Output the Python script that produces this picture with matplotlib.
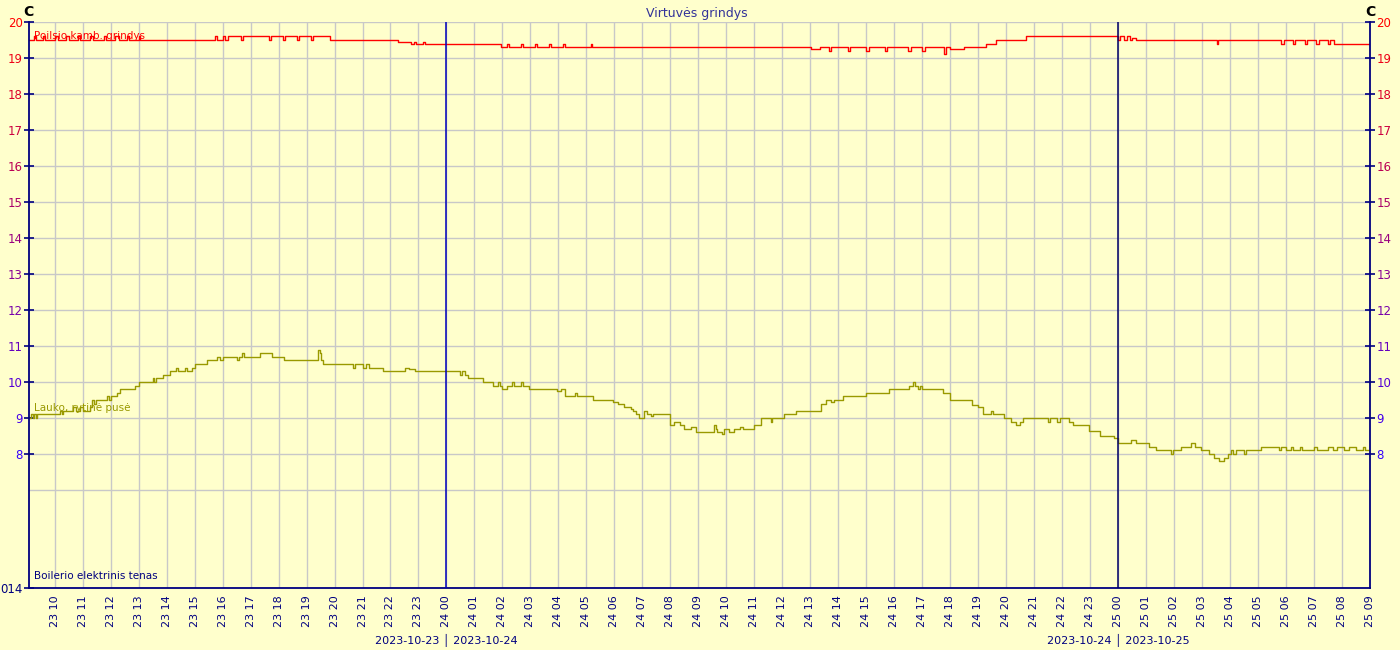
"""Virtuvės grindys temperature chart."""

import matplotlib

matplotlib.use("Agg")
import matplotlib.dates as mdates
import matplotlib.pyplot as plt
import numpy as np
import pandas as pd

# --- data (times as "day HH:MM" in October 2023) ---
poilsio_t = [
    "23 09:05", "23 09:15", "23 09:20", "23 09:35", "23 09:40", "23 10:00",
    "23 10:08", "23 10:25", "23 10:30", "23 10:50", "23 10:55", "23 11:15",
    "23 11:22", "23 11:45", "23 11:50", "23 12:10", "23 12:18", "23 12:35",
    "23 12:40", "23 13:00", "23 13:04", "23 15:44", "23 15:48", "23 16:00",
    "23 16:05", "23 16:12", "23 16:40", "23 16:44", "23 17:40", "23 17:44",
    "23 18:10", "23 18:14", "23 18:40", "23 18:44", "23 19:10", "23 19:14",
    "23 19:51", "23 22:17", "23 22:43", "23 22:50", "23 22:55", "23 23:10",
    "23 23:15", "24 01:56", "24 02:10", "24 02:15", "24 02:40", "24 02:45",
    "24 03:10", "24 03:15", "24 03:40", "24 03:45", "24 04:10", "24 04:15",
    "24 05:09", "24 05:12", "24 13:01", "24 13:20", "24 13:40", "24 13:45",
    "24 14:20", "24 14:25", "24 15:00", "24 15:05", "24 15:40", "24 15:45",
    "24 16:30", "24 16:35", "24 17:00", "24 17:05", "24 17:47", "24 17:50",
    "24 18:00", "24 18:30", "24 19:17", "24 19:38", "24 20:43", "25 00:00",
    "25 00:05", "25 00:12", "25 00:18", "25 00:25", "25 00:30", "25 00:39",
    "25 03:32", "25 03:35", "25 05:50", "25 05:55", "25 06:15", "25 06:20",
    "25 06:40", "25 06:45", "25 07:05", "25 07:10", "25 07:30", "25 07:35",
    "25 07:43", "25 09:00",
]
poilsio_v = [
    19.5, 19.6, 19.5, 19.6, 19.5, 19.6,
    19.5, 19.6, 19.5, 19.6, 19.5, 19.6,
    19.5, 19.6, 19.5, 19.6, 19.5, 19.6,
    19.5, 19.6, 19.5, 19.6, 19.5, 19.6,
    19.5, 19.6, 19.5, 19.6, 19.5, 19.6,
    19.5, 19.6, 19.5, 19.6, 19.5, 19.6,
    19.5, 19.45, 19.4, 19.45, 19.4, 19.45,
    19.4, 19.3, 19.4, 19.3, 19.4, 19.3,
    19.4, 19.3, 19.4, 19.3, 19.4, 19.3,
    19.4, 19.3, 19.25, 19.3, 19.2, 19.3,
    19.2, 19.3, 19.2, 19.3, 19.2, 19.3,
    19.2, 19.3, 19.2, 19.3, 19.1, 19.3,
    19.25, 19.3, 19.4, 19.5, 19.6, 19.5,
    19.6, 19.5, 19.6, 19.5, 19.55, 19.5,
    19.4, 19.5, 19.4, 19.5, 19.4, 19.5,
    19.4, 19.5, 19.4, 19.5, 19.4, 19.5,
    19.4, 19.4,
]

lauko_t = [
    "23 09:05", "23 09:10", "23 09:13", "23 09:16", "23 09:19", "23 09:22",
    "23 10:12", "23 10:15", "23 10:18", "23 10:40", "23 10:45", "23 10:55",
    "23 11:00", "23 11:16", "23 11:20", "23 11:25", "23 11:28", "23 11:53",
    "23 11:57", "23 12:00", "23 12:14", "23 12:20", "23 12:53", "23 13:01",
    "23 13:30", "23 13:34", "23 13:38", "23 13:53", "23 14:08", "23 14:20",
    "23 14:24", "23 14:40", "23 14:44", "23 14:55", "23 15:01", "23 15:27",
    "23 15:48", "23 15:55", "23 16:00", "23 16:30", "23 16:36", "23 16:42",
    "23 16:47", "23 17:21", "23 17:45", "23 18:12", "23 19:25", "23 19:28",
    "23 19:32", "23 19:36", "23 20:40", "23 20:44", "23 21:02", "23 21:08",
    "23 21:14", "23 21:45", "23 22:32", "23 22:40", "23 22:53", "24 00:30",
    "24 00:34", "24 00:40", "24 00:47", "24 01:19", "24 01:40", "24 01:50",
    "24 01:55", "24 02:00", "24 02:10", "24 02:20", "24 02:25", "24 02:40",
    "24 02:45", "24 02:56", "24 03:58", "24 04:05", "24 04:15", "24 04:35",
    "24 04:40", "24 05:15", "24 05:56", "24 06:07", "24 06:20", "24 06:35",
    "24 06:41", "24 06:47", "24 06:52", "24 07:03", "24 07:10", "24 07:18",
    "24 07:22", "24 08:00", "24 08:07", "24 08:20", "24 08:29", "24 08:45",
    "24 08:55", "24 09:33", "24 09:37", "24 09:41", "24 09:50", "24 09:55",
    "24 10:05", "24 10:16", "24 10:30", "24 10:35", "24 10:59", "24 11:14",
    "24 11:35", "24 11:38", "24 12:03", "24 12:29", "24 13:23", "24 13:33",
    "24 13:45", "24 13:50", "24 14:10", "24 14:59", "24 15:49", "24 16:31",
    "24 16:40", "24 16:44", "24 16:50", "24 16:55", "24 17:00", "24 17:44",
    "24 17:59", "24 18:47", "24 18:59", "24 19:10", "24 19:27", "24 19:31",
    "24 19:55", "24 20:10", "24 20:21", "24 20:30", "24 20:36", "24 21:30",
    "24 21:35", "24 21:50", "24 21:55", "24 22:15", "24 22:23", "24 22:58",
    "24 23:21", "24 23:51", "25 00:00", "25 00:28", "25 00:38", "25 01:07",
    "25 01:22", "25 01:54", "25 01:58", "25 02:15", "25 02:37", "25 02:45",
    "25 02:58", "25 03:15", "25 03:26", "25 03:37", "25 03:47", "25 03:56",
    "25 04:02", "25 04:06", "25 04:13", "25 04:30", "25 04:34", "25 05:07",
    "25 05:45", "25 05:50", "25 06:00", "25 06:10", "25 06:15", "25 06:30",
    "25 06:35", "25 07:00", "25 07:06", "25 07:30", "25 07:40", "25 07:50",
    "25 08:05", "25 08:15", "25 08:30", "25 08:45", "25 08:50", "25 09:00",
]
lauko_v = [
    9.0, 9.1, 9.0, 9.1, 9.0, 9.1,
    9.2, 9.1, 9.2, 9.3, 9.2, 9.3,
    9.2, 9.3, 9.5, 9.4, 9.5, 9.6,
    9.5, 9.6, 9.7, 9.8, 9.9, 10.0,
    10.1, 10.0, 10.1, 10.2, 10.3, 10.4,
    10.3, 10.4, 10.3, 10.4, 10.5, 10.6,
    10.7, 10.6, 10.7, 10.6, 10.7, 10.8,
    10.7, 10.8, 10.7, 10.6, 10.9, 10.8,
    10.6, 10.5, 10.4, 10.5, 10.4, 10.5,
    10.4, 10.3, 10.4, 10.35, 10.3, 10.2,
    10.3, 10.2, 10.1, 10.0, 9.9, 10.0,
    9.9, 9.8, 9.9, 10.0, 9.9, 10.0,
    9.9, 9.8, 9.75, 9.8, 9.6, 9.7,
    9.6, 9.5, 9.45, 9.4, 9.3, 9.25,
    9.2, 9.1, 9.0, 9.2, 9.1, 9.05,
    9.1, 8.8, 8.9, 8.8, 8.7, 8.75,
    8.6, 8.8, 8.7, 8.6, 8.55, 8.7,
    8.6, 8.7, 8.75, 8.7, 8.8, 9.0,
    8.9, 9.0, 9.1, 9.2, 9.4, 9.5,
    9.45, 9.5, 9.6, 9.7, 9.8, 9.9,
    10.0, 9.9, 9.8, 9.9, 9.8, 9.7,
    9.5, 9.35, 9.3, 9.1, 9.2, 9.1,
    9.0, 8.9, 8.8, 8.9, 9.0, 8.9,
    9.0, 8.9, 9.0, 8.9, 8.8, 8.65,
    8.5, 8.45, 8.3, 8.4, 8.3, 8.2,
    8.1, 8.0, 8.1, 8.2, 8.3, 8.2,
    8.1, 8.0, 7.9, 7.8, 7.9, 8.0,
    8.1, 8.0, 8.1, 8.0, 8.1, 8.2,
    8.1, 8.2, 8.1, 8.2, 8.1, 8.2,
    8.1, 8.2, 8.1, 8.2, 8.1, 8.2,
    8.1, 8.2, 8.1, 8.2, 8.1, 8.1,
]

y_ticks = list(range(8, 21))
x_start = "23 09:05"
x_end = "25 09:00"
day_breaks = ["24 00:00", "25 00:00"]
day_labels = ["2023-10-23 \u2502 2023-10-24", "2023-10-24 \u2502 2023-10-25"]


def to_time(values):
    return pd.to_datetime(["2023-10-" + v for v in values], format="%Y-%m-%d %H:%M")


BG = "#ffffcc"
NAVY = "#000080"
GRID = "#c8c8c8"

fig = plt.figure(figsize=(14, 6.5), dpi=100, facecolor=BG)
ax = fig.add_axes([29 / 1400, 62 / 650, 1341 / 1400, 566 / 650], facecolor=BG)

y_bottom = 20 - 566 / 36
ax.set_ylim(y_bottom, 20)
ax.set_xlim(to_time([x_start])[0], to_time([x_end])[0])

ax.plot(to_time(lauko_t), lauko_v, color="#999900", linewidth=1.0, drawstyle="steps-post")
ax.plot(to_time(poilsio_t), poilsio_v, color="#ff0000", linewidth=1.0, drawstyle="steps-post")

for t, color in zip(to_time(day_breaks), ["#0000bb", "#000066"]):
    ax.axvline(t, color=color, linewidth=1.1, zorder=3)

# x axis: hourly ticks
ax.xaxis.set_major_locator(mdates.HourLocator())
ax.xaxis.set_major_formatter(mdates.DateFormatter("%d %H"))
ax.tick_params(axis="x", length=0, pad=5, labelsize=8, labelcolor=NAVY, rotation=90)
ax.grid(axis="x", color=GRID, linewidth=1)


# y axis: gradient coloured labels
def label_color(v):
    f = (v - 8) / 12
    r = 0.2 + 0.8 * f
    b = 1.0 - f
    return (r, 0.0, b)


ax.set_yticks([y_bottom] + y_ticks)
ax.set_yticklabels(["014"] + [str(v) for v in y_ticks])
ax.set_yticks([7], minor=True)
ax.tick_params(axis="y", which="major", direction="inout", length=7, width=1.2,
               color=NAVY, labelsize=8.5, pad=1)
ax.tick_params(axis="y", which="minor", length=0)
ax.grid(axis="y", which="both", color=GRID, linewidth=1)
labels = ax.get_yticklabels()
labels[0].set_color(NAVY)
for lab, v in zip(labels[1:], y_ticks):
    lab.set_color(label_color(v))

for side in ["left", "bottom"]:
    ax.spines[side].set_color(NAVY)
    ax.spines[side].set_linewidth(1.3)
ax.spines["top"].set_visible(False)
ax.spines["right"].set_visible(False)

ax2 = ax.twinx()
ax2.set_ylim(y_bottom, 20)
ax2.set_yticks(y_ticks)
ax2.set_yticklabels([str(v) for v in y_ticks])
ax2.tick_params(axis="y", direction="inout", length=7, width=1.2, color=NAVY,
                labelsize=8.5, pad=1)
for lab, v in zip(ax2.get_yticklabels(), y_ticks):
    lab.set_color(label_color(v))
for side in ["left", "bottom", "top"]:
    ax2.spines[side].set_visible(False)
ax2.spines["right"].set_color(NAVY)
ax2.spines["right"].set_linewidth(1.3)

# date labels under the day breaks (about 52 px below the axis)
for t, text in zip(to_time(day_breaks), day_labels):
    ax.annotate(text, xy=(mdates.date2num(t), 0), xycoords=("data", "axes fraction"),
                xytext=(0, -37.5), textcoords="offset points", ha="center", va="center",
                fontsize=8, color=NAVY, annotation_clip=False)

# series labels
ax.text(0.004, 0.975, "Poilsio kamb. grindys", transform=ax.transAxes,
        color="#ff0000", fontsize=7.5, va="center")
ax.text(0.004, 0.318, "Lauko, rytinė pusė", transform=ax.transAxes,
        color="#999900", fontsize=7.5, va="center")
ax.text(0.004, 0.021, "Boilerio elektrinis tenas", transform=ax.transAxes,
        color=NAVY, fontsize=7.5, va="center")

fig.text(697 / 1400, 1 - 14 / 650, "Virtuvės grindys", ha="center", va="center",
         fontsize=9, color="#333399")
fig.text(28 / 1400, 1 - 12 / 650, "C", ha="center", va="center", fontsize=10,
         fontweight="bold", color="black")
fig.text(1370 / 1400, 1 - 12 / 650, "C", ha="center", va="center", fontsize=10,
         fontweight="bold", color="black")

fig.savefig("out.png", dpi=100, facecolor=BG)
plt.close(fig)
